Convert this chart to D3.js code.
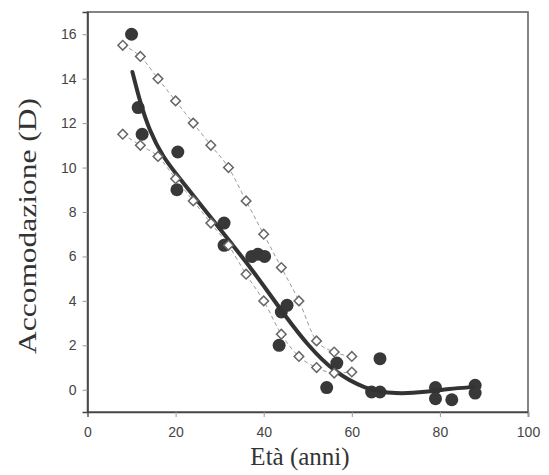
<!DOCTYPE html>
<html><head><meta charset="utf-8">
<script src="https://cdn.jsdelivr.net/npm/d3@7"></script>
<style>body{margin:0;background:#fff}</style>
</head><body>
<svg id="chart" width="549" height="475"></svg>
<script>
// Data
const xTicks = [0, 20, 40, 60, 80, 100];
const yTicks = [0, 2, 4, 6, 8, 10, 12, 14, 16];
const xTitle = "Età (anni)";
const yTitle = "Accomodazione (D)";

// filled circles
const measuredAge = [10, 11.5, 12.4, 20.5, 20.3, 31, 31, 37.3, 38.7, 40.2, 44, 45.3, 43.5, 54.3, 56.6, 64.5, 66.4, 66.4, 79, 79, 82.7, 88, 88];
const measuredAcc = [16, 12.7, 11.5, 10.7, 9, 7.5, 6.5, 6.0, 6.1, 6.0, 3.5, 3.8, 2.0, 0.1, 1.2, -0.1, -0.1, 1.4, 0.1, -0.4, -0.45, 0.2, -0.15];

// open diamonds, upper series
const upperAge = [8, 12, 16, 20, 24, 28, 32, 36, 40, 44, 48, 52, 56, 60];
const upperAcc = [15.5, 15, 14, 13, 12, 11, 10, 8.5, 7, 5.5, 4, 2.2, 1.7, 1.5];

// open diamonds, lower series
const lowerAge = [8, 12, 16, 20, 24, 28, 32, 36, 40, 44, 48, 52, 56, 60];
const lowerAcc = [11.5, 11, 10.5, 9.5, 8.5, 7.5, 6.5, 5.2, 4, 2.5, 1.5, 1, 0.75, 0.8];

// fitted curve
const fitAge = [10.2, 12, 14, 17, 21, 25, 29, 33, 37, 41, 45, 50, 56, 63, 70, 77, 82, 87.5];
const fitAcc = [14.3, 12.9, 11.7, 10.5, 9.5, 8.5, 7.5, 6.5, 5.5, 4.4, 3.3, 2.0, 0.8, 0.02, -0.2, -0.1, 0.05, 0.12];

const svg = d3.select("#chart");
const x = d3.scaleLinear().domain([0, 100]).range([87.5, 528]);
const y = d3.scaleLinear().domain([-1, 17]).range([412, 12]);

const zip = (a, b) => a.map((v, i) => [v, b[i]]);

// frame
svg.append("rect")
  .attr("x", x(0)).attr("y", y(17))
  .attr("width", x(100) - x(0)).attr("height", y(-1) - y(17))
  .attr("fill", "none").attr("stroke", "#666").attr("stroke-width", 1.6);

// axes
const gx = svg.append("g").attr("transform", `translate(0,${y(-1)})`)
  .call(d3.axisBottom(x).tickValues(xTicks).tickSize(5).tickPadding(10));
const gy = svg.append("g").attr("transform", `translate(${x(0)},0)`)
  .call(d3.axisLeft(y).tickValues(yTicks).tickSize(5).tickPadding(6));
[gx, gy].forEach(g => {
  g.select(".domain").attr("stroke", "#444").attr("stroke-width", 1.6);
  g.selectAll(".tick line").attr("stroke", "#999");
  g.selectAll(".tick text").attr("fill", "#444")
    .style("font-family", "'Liberation Sans', Arial, sans-serif").style("font-size", "14px");
});

// dashed connecting lines
const line = d3.line().x(d => x(d[0])).y(d => y(d[1])).curve(d3.curveMonotoneX);
[zip(upperAge, upperAcc), zip(lowerAge, lowerAcc)].forEach(s => {
  svg.append("path").datum(s).attr("d", line)
    .attr("fill", "none").attr("stroke", "#999").attr("stroke-width", 1)
    .attr("stroke-dasharray", "4,3");
});

// filled circles
svg.append("g").selectAll("circle").data(zip(measuredAge, measuredAcc)).join("circle")
  .attr("cx", d => x(d[0])).attr("cy", d => y(d[1])).attr("r", 6.5)
  .attr("fill", "#383838");

// fitted curve
const fitLine = d3.line().x(d => x(d[0])).y(d => y(d[1])).curve(d3.curveBasis);
svg.append("path").datum(zip(fitAge, fitAcc)).attr("d", fitLine)
  .attr("fill", "none").attr("stroke", "#333").attr("stroke-width", 4)
  .attr("stroke-linecap", "round");

// diamonds
const diamond = d3.symbol().type(d3.symbolSquare).size(46);
[zip(upperAge, upperAcc), zip(lowerAge, lowerAcc)].forEach(s => {
  svg.append("g").selectAll("path").data(s).join("path")
    .attr("d", diamond)
    .attr("transform", d => `translate(${x(d[0])},${y(d[1])}) rotate(45)`)
    .attr("fill", "#fff").attr("stroke", "#666").attr("stroke-width", 1.5);
});

// titles
svg.append("text").attr("x", 300).attr("y", 465)
  .attr("text-anchor", "middle").attr("fill", "#333")
  .style("font-family", "'Liberation Serif', 'Times New Roman', serif").style("font-size", "25px")
  .text(xTitle);
svg.append("text").attr("transform", `translate(36,${(y(17) + y(-1)) / 2 + 14}) rotate(-90)`)
  .attr("text-anchor", "middle").attr("fill", "#333")
  .attr("textLength", 256).attr("lengthAdjust", "spacingAndGlyphs")
  .style("font-family", "'Liberation Serif', 'Times New Roman', serif").style("font-size", "25px")
  .text(yTitle);
</script>
</body></html>
